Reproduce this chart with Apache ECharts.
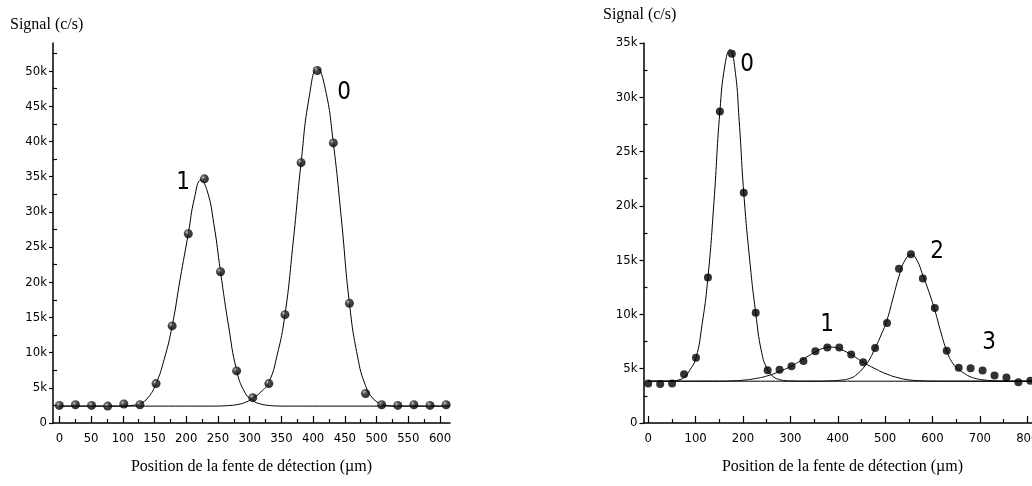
<!DOCTYPE html>
<html>
<head>
<meta charset="utf-8">
<script src="https://cdn.jsdelivr.net/npm/echarts@6/dist/echarts.min.js"></script>
<style>
html,body{margin:0;padding:0;background:#fff;overflow:hidden;width:1032px;height:486px;}
#c{width:1060px;height:486px;}
</style>
</head>
<body>
<div id="c"></div>
<script>
// ---------- Left panel: measured points ----------
const L_X = [0,25.4,50.8,76.2,101.6,127,152.4,177.8,203.2,228.6,254,279.4,304.8,330.2,355.6,381,406.4,431.8,457.2,482.6,508,533.4,558.8,584.2,609.6];
const L_Y = [2500,2600,2500,2400,2700,2600,5600,13800,26900,34700,21500,7400,3600,5600,15400,37000,50100,39800,17000,4200,2600,2500,2600,2500,2600];
// fitted peak "1"
const LA_X = [0,50,89,101.6,114.3,127,139.7,152.4,165.1,177.8,190.5,203.2,213,223,233,243.5,254,266.7,279.4,292.1,304.8,317.5,330.2,342.9,355.6,400,615];
const LA_Y = [2400,2400,2400,2420,2500,2750,3600,5600,9000,13800,20500,26900,32000,34500,33000,28300,21500,13800,7500,4400,3200,2700,2500,2420,2400,2400,2400];
// fitted peak "0"
const LB_X = [0,200,241.3,254,266.7,279.4,292.1,304.8,317.5,330.2,342.9,355.6,368.3,381,393.7,406.6,419.1,431.8,444.5,457.2,469.9,482.6,495.3,508,520.7,533.4,560,615];
const LB_Y = [2400,2400,2400,2420,2480,2600,2900,3500,4400,5800,9500,15400,25500,37000,46300,50400,47500,39800,29000,17000,9500,5300,3400,2700,2450,2400,2400,2400];
const L_XTICKS = [0,50,100,150,200,250,300,350,400,450,500,550,600];
const L_XMINOR = [25,75,125,175,225,275,325,375,425,475,525,575];

// ---------- Right panel ----------
const R_X = [0,25.2,50.4,75.6,100.8,126,151.2,176.4,201.6,226.8,252,277.2,302.4,327.6,352.8,378,403.2,428.4,453.6,478.8,504,529.2,554.4,579.6,604.8,630,655.2,680.4,705.6,730.8,756,781.2,806.4];
const R_Y = [3630,3600,3630,4500,6000,13400,28700,34000,21200,10150,4860,4900,5230,5700,6600,6950,6950,6300,5600,6900,9200,14200,15550,13300,10600,6650,5100,5050,4830,4370,4200,3750,3900];
const R0_X = [0,25,50.4,63,75.6,88.2,100.8,113.4,126,138.6,151.2,162,172.4,183,192,201.6,214.2,226.8,239.4,252,264.6,277.2,289.8,302.4,330,400,830];
const R0_Y = [3850,3850,3860,3950,4200,4900,6000,9000,13400,20300,28700,33000,34400,32600,27800,21200,15000,10150,6500,4900,4250,4000,3900,3870,3850,3850,3850];
const R1_X = [0,150,176,201.6,226.8,252,277.2,302.4,327.6,352.8,367,382,395,408,428.4,453.6,478.8,504,529.2,554.4,579.6,605,650,830];
const R1_Y = [3850,3850,3880,3950,4100,4350,4750,5250,5900,6550,6850,7000,6950,6750,6300,5600,5000,4500,4150,3950,3880,3855,3850,3850];
const R2_X = [0,350,378,403.2,428.4,441,453.6,466.2,478.8,491.4,504,516.6,529.2,542,555.7,567,579.6,592.2,604.8,617.4,630,642.6,655.2,667.8,680.4,693,705.6,730.8,756,830];
const R2_Y = [3850,3850,3870,3930,4150,4500,5050,5800,6900,8100,9500,11500,13500,15000,15500,15000,13600,12100,10400,8400,6650,5500,4950,4550,4250,4080,3980,3880,3855,3850];
const R_XTICKS = [0,100,200,300,400,500,600,700,800];
const R_XMINOR = [50,150,250,350,450,550,650,750];

const Y_MINOR_L = [2500,7500,12500,17500,22500,27500,32500,37500,42500,47500,52500];
const Y_MINOR_R = [2500,7500,12500,17500,22500,27500,32500];

const zip = (xs, ys) => xs.map((x, i) => [x, ys[i]]);
const SANS = "'Liberation Sans Narrow','DejaVu Sans Condensed','Liberation Sans',Arial,sans-serif";
const SERIF = "'Liberation Serif','Times New Roman',serif";
const kfmt = v => v === 0 ? '0' : (v / 1000) + 'k';

function xMain(grid, min, max, ticks) {
  return {
    type: 'value', gridIndex: grid, position: 'bottom', offset: 0, min: min, max: max,
    name: 'Position de la fente de détection (\u00b5m)', nameLocation: 'middle', nameGap: 36,
    nameTextStyle: { fontFamily: SERIF, fontSize: 16, color: '#000' },
    axisLine: { show: true, onZero: false, lineStyle: { color: '#000', width: 1.5 } },
    axisTick: { show: true, inside: true, length: 7, customValues: ticks, lineStyle: { color: '#000', width: 1.2 } },
    axisLabel: { show: true, customValues: ticks, margin: 9, color: '#000', fontFamily: SANS, fontSize: 13 },
    splitLine: { show: false }
  };
}
function xMinor(grid, min, max, ticks) {
  return {
    type: 'value', gridIndex: grid, position: 'bottom', offset: 0, min: min, max: max,
    axisLine: { show: false, onZero: false },
    axisTick: { show: true, inside: true, length: 4, customValues: ticks, lineStyle: { color: '#000', width: 1.2 } },
    axisLabel: { show: false }, splitLine: { show: false }
  };
}
function yMain(grid, max, showMax) {
  return {
    type: 'value', gridIndex: grid, position: 'left', offset: 0, min: 0, max: max, interval: 5000,
    axisLine: { show: true, onZero: false, lineStyle: { color: '#000', width: 1.5 } },
    axisTick: { show: true, inside: false, length: 4, lineStyle: { color: '#000', width: 1.2 } },
    axisLabel: { show: true, margin: 6, color: '#000', fontFamily: SANS, fontSize: 13, formatter: kfmt, showMaxLabel: showMax },
    splitLine: { show: false }
  };
}
function yMinor(grid, max, ticks) {
  return {
    type: 'value', gridIndex: grid, position: 'left', offset: 0, min: 0, max: max,
    axisLine: { show: false, onZero: false },
    axisTick: { show: true, inside: true, length: 4, customValues: ticks, lineStyle: { color: '#000', width: 1.2 } },
    axisLabel: { show: false }, splitLine: { show: false }
  };
}

const ball = {
  type: 'radial', x: 0.36, y: 0.33, r: 0.7,
  colorStops: [{ offset: 0, color: '#e8e8e8' }, { offset: 0.18, color: '#555' }, { offset: 0.5, color: '#111' }, { offset: 1, color: '#000' }]
};
const curve = (xi, yi, data) => ({
  type: 'line', xAxisIndex: xi, yAxisIndex: yi, data: data, smooth: 0.5,
  showSymbol: false, symbol: 'none', lineStyle: { color: '#000', width: 1 }, z: 2, silent: true, animation: false
});

const chart = echarts.init(document.getElementById('c'), null, { renderer: 'canvas' });
chart.setOption({
  animation: false,
  backgroundColor: '#fff',
  grid: [
    { left: 53, top: 43, width: 397, height: 380 },
    { left: 643.5, top: 43, width: 398, height: 380 }
  ],
  xAxis: [
    xMain(0, -10, 615.7, L_XTICKS), xMinor(0, -10, 615.7, L_XMINOR),
    xMain(1, -10, 830, R_XTICKS), xMinor(1, -10, 830, R_XMINOR)
  ],
  yAxis: [yMain(0, 54000, false), yMinor(0, 54000, Y_MINOR_L), yMain(1, 35000, true), yMinor(1, 35000, Y_MINOR_R)],
  series: [
    curve(0, 0, zip(LA_X, LA_Y)),
    curve(0, 0, zip(LB_X, LB_Y)),
    {
      type: 'scatter', xAxisIndex: 0, yAxisIndex: 0, data: zip(L_X, L_Y),
      symbol: 'circle', symbolSize: 9, itemStyle: { color: ball }, z: 3
    },
    curve(2, 2, zip(R0_X, R0_Y)),
    curve(2, 2, zip(R1_X, R1_Y)),
    curve(2, 2, zip(R2_X, R2_Y)),
    {
      type: 'scatter', xAxisIndex: 2, yAxisIndex: 2, data: zip(R_X, R_Y),
      symbol: 'circle', symbolSize: 8, itemStyle: { color: '#000' }, z: 3
    }
  ],
  graphic: [
    { type: 'text', left: 10, top: 17, style: { text: 'Signal (c/s)', fontFamily: SERIF, fontSize: 16, fill: '#000' } },
    { type: 'text', left: 603, top: 7, style: { text: 'Signal (c/s)', fontFamily: SERIF, fontSize: 16, fill: '#000' } },
    { type: 'text', x: 183, y: 183, style: { text: '1', fontFamily: SANS, fontSize: 24, fill: '#000', align: 'center', verticalAlign: 'middle' } },
    { type: 'text', x: 344, y: 93, style: { text: '0', fontFamily: SANS, fontSize: 24, fill: '#000', align: 'center', verticalAlign: 'middle' } },
    { type: 'text', x: 747, y: 65, style: { text: '0', fontFamily: SANS, fontSize: 24, fill: '#000', align: 'center', verticalAlign: 'middle' } },
    { type: 'text', x: 827, y: 325, style: { text: '1', fontFamily: SANS, fontSize: 24, fill: '#000', align: 'center', verticalAlign: 'middle' } },
    { type: 'text', x: 937, y: 252, style: { text: '2', fontFamily: SANS, fontSize: 24, fill: '#000', align: 'center', verticalAlign: 'middle' } },
    { type: 'text', x: 989, y: 343, style: { text: '3', fontFamily: SANS, fontSize: 24, fill: '#000', align: 'center', verticalAlign: 'middle' } }
  ]
});
</script>
</body>
</html>
